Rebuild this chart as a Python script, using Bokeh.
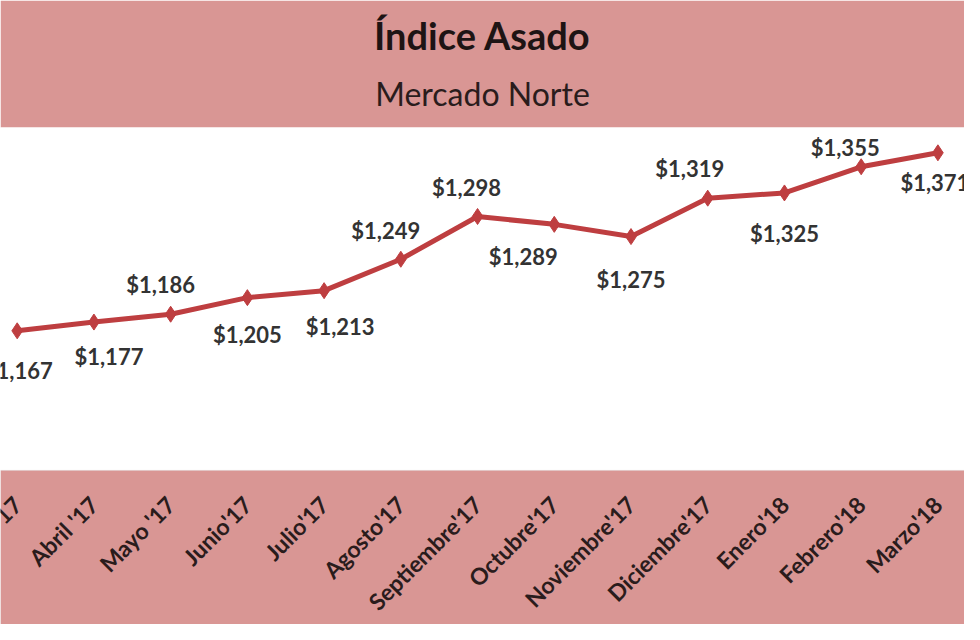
import numpy as np
from bokeh.plotting import figure
from bokeh.models import ColumnDataSource, Range1d, Title, BoxAnnotation
from bokeh.core.properties import value
from bokeh.embed import file_html
from bokeh.resources import INLINE

meses = ["Marzo'17", "Abril '17", "Mayo '17", "Junio'17", "Julio'17", "Agosto'17",
         "Septiembre'17", "Octubre'17", "Noviembre'17", "Diciembre'17",
         "Enero'18", "Febrero'18", "Marzo'18"]
precios = [1167, 1177, 1186, 1205, 1213, 1249, 1298, 1289, 1275, 1319, 1325, 1355, 1371]

# where each value label sits relative to its point (px, + is down)
label_dx = [1, 15, -10, 0, 16, -15, -11, -31, 0, -18, 0, -16, -3]
label_dy = [40, 34, -30, 37, 36, -29, -29, 32, 43, -30, 41, -19, 30]

PINK = "#D99694"
RED = "#BE3E40"
FONT = "Lato"
PLOT_BOTTOM = 1007   # value at the lower edge of the white plot area

n = len(meses)
source = ColumnDataSource(data=dict(
    x=list(range(n)),
    y=precios,
    txt=["${:,}".format(v) for v in precios],
    dx=label_dx,
    dy=label_dy,
))
ticks = ColumnDataSource(data=dict(x=list(range(n)), y=[PLOT_BOTTOM] * n, mes=meses))

# the frame runs down into the pink category band so the month labels clip at the edges
p = figure(width=964, height=624, output_backend="svg", toolbar_location=None,
           x_range=Range1d(-0.2177, 12.3467), y_range=Range1d(830.4, 1400),
           x_axis_location=None, y_axis_location=None,
           min_border_top=127, min_border_bottom=0, min_border_left=0, min_border_right=0,
           background_fill_color="white", border_fill_color=PINK, outline_line_color=None)
p.grid.visible = False

p.add_layout(BoxAnnotation(top=PLOT_BOTTOM, fill_color=PINK, fill_alpha=1.0,
                           line_color="#c9bcbc", line_width=1, level="underlay"))

p.line("x", "y", source=source, line_color=RED, line_width=5)
p.scatter("x", "y", source=source, marker="diamond", size=16, fill_color=RED, line_color=RED)
p.text("x", "y", text="txt", source=source, x_offset="dx", y_offset="dy",
       text_align="center", text_baseline="middle", text_font=value(FONT),
       text_font_style="bold", text_font_size="22px", text_color="#333333")

# month labels, rotated 45 degrees and ending under each point
p.text("x", "y", text="mes", source=ticks, angle=np.pi / 4, x_offset=0, y_offset=30,
       text_align="right", text_baseline="middle", text_font=value(FONT),
       text_font_style="bold", text_font_size="23px", text_color="#2a1c1c")

# titles in the pink band above the plot area (first added sits nearest the plot)
p.add_layout(Title(text="Mercado Norte", align="center", standoff=29, text_font=FONT,
                   text_font_style="normal", text_font_size="32px", text_color="#2a1c1c"), "above")
p.add_layout(Title(text="Índice Asado", align="center", standoff=0, text_font=FONT,
                   text_font_style="bold", text_font_size="38px", text_color="#1e1414"), "above")

open("out.html", "w").write(file_html(p, INLINE))
